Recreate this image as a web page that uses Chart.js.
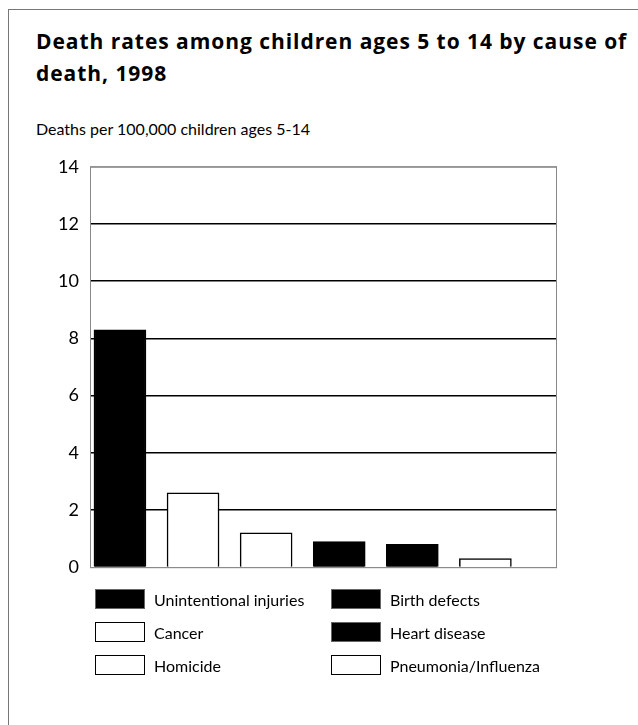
<!DOCTYPE html>
<html>
<head>
<meta charset="utf-8">
<script src="https://cdn.jsdelivr.net/npm/chart.js@4"></script>
<style>
  body { margin: 0; background: #fff; width: 638px; height: 725px; overflow: hidden; font-family: Lato, "Noto Sans", sans-serif; color: #000; }
  #frame { position: absolute; left: 8px; top: 9px; width: 640px; height: 730px; border-top: 1px solid #777; border-left: 1px solid #777; }
  #title { position: absolute; left: 36px; top: 25px; font-family: "Open Sans", sans-serif; font-size: 21px; letter-spacing: 0.95px; font-weight: bold; line-height: 32px; white-space: nowrap; }
  #subtitle { position: absolute; left: 36px; top: 119px; font-size: 16px; white-space: nowrap; }
  #chartBox { position: absolute; left: 0; top: 145px; width: 600px; height: 444px; }
  #legend { position: absolute; left: 95px; top: 588px; display: grid; grid-template-rows: repeat(3, 22px); grid-auto-flow: column; grid-template-columns: 236px 240px; row-gap: 11px; }
  .item { display: flex; align-items: center; font-size: 16px; white-space: nowrap; }
  .swatch { width: 50px; height: 20px; margin-right: 9px; box-sizing: border-box; }
</style>
</head>
<body>
<div id="frame"></div>
<div id="title">Death rates among children ages 5 to 14 by cause of<br>death, 1998</div>
<div id="subtitle">Deaths per 100,000 children ages 5-14</div>
<div id="chartBox"><canvas id="chartCanvas"></canvas></div>
<div id="legend"></div>
<script>
const causes = ['Unintentional injuries', 'Cancer', 'Homicide', 'Birth defects', 'Heart disease', 'Pneumonia/Influenza'];
const rates = [8.3, 2.6, 1.2, 0.9, 0.8, 0.3];
const fills = ['#000', '#fff', '#fff', '#000', '#000', '#fff'];
const yTicks = [0, 2, 4, 6, 8, 10, 12, 14];

// legend built from the same arrays, two columns like the original
const legend = document.getElementById('legend');
causes.forEach((name, i) => {
  const item = document.createElement('div');
  item.className = 'item';
  const sw = document.createElement('span');
  sw.className = 'swatch';
  sw.style.background = fills[i];
  sw.style.border = fills[i] === '#000' ? '1px solid #666' : '1px solid #000';
  const label = document.createElement('span');
  label.textContent = name;
  item.appendChild(sw);
  item.appendChild(label);
  legend.appendChild(item);
});

// thin frame around the plot area
const plotFrame = {
  id: 'plotFrame',
  beforeDatasetsDraw(chart) {
    const a = chart.chartArea;
    const ctx = chart.ctx;
    ctx.save();
    ctx.strokeStyle = '#888';
    ctx.lineWidth = 1;
    ctx.strokeRect(a.left + 0.5, a.top + 0.5, a.right - a.left - 1, a.bottom - a.top);
    ctx.restore();
  }
};

const ctx = document.getElementById('chartCanvas').getContext('2d');
const chart = new Chart(ctx, {
  type: 'bar',
  data: {
    datasets: [{
      data: causes.map((c, i) => ({ x: i, y: rates[i] })),
      backgroundColor: fills,
      borderColor: '#000',
      borderWidth: 1.5,
      barThickness: 52
    }]
  },
  options: {
    responsive: true,
    maintainAspectRatio: false,
    animation: false,
    layout: { padding: { top: 16, right: 43, bottom: 13, left: 0 } },
    plugins: { legend: { display: false }, tooltip: { enabled: false } },
    scales: {
      x: {
        type: 'linear',
        offset: false,
        min: -0.41,
        max: 5.98,
        display: false
      },
      y: {
        min: 0,
        max: 14,
        afterFit(scale) { scale.width = 90; },
        afterBuildTicks(scale) { scale.ticks = yTicks.map(v => ({ value: v })); },
        border: { display: false },
        grid: {
          drawTicks: false,
          color: c => (c.tick.value === 0 || c.tick.value === 14) ? '#999' : '#000',
          lineWidth: c => (c.tick.value === 0 || c.tick.value === 14) ? 1 : 1.5
        },
        ticks: {
          padding: 11,
          color: '#000',
          font: { family: 'Lato', size: 18 }
        }
      }
    }
  },
  plugins: [plotFrame]
});
</script>
</body>
</html>
